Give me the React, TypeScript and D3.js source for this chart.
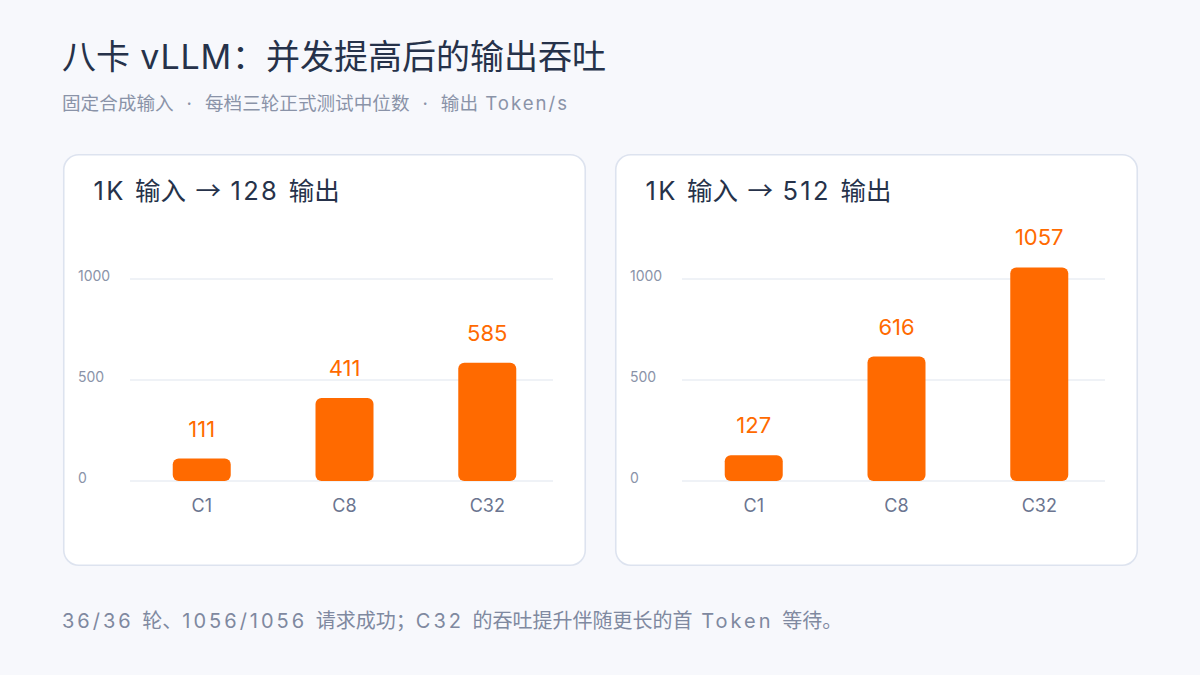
import React from "react";
import * as d3 from "d3";

const categories = ["C1", "C8", "C32"];
const panelTitles = ["1K 输入 → 128 输出", "1K 输入 → 512 输出"];
const valuesShort = [111, 411, 585];
const valuesLong = [127, 616, 1057];
const yTicks = [0, 500, 1000];

const title = "八卡 vLLM：并发提高后的输出吞吐";
const subtitleParts = ["固定合成输入", "每档三轮正式测试中位数", "输出 Token/s"];
const footer = "36/36 轮、1056/1056 请求成功；C32 的吞吐提升伴随更长的首 Token 等待。";

const LATIN = 'Inter, "Noto Sans CJK SC", sans-serif';
const CJK = '"Noto Sans CJK SC", sans-serif';
const ORANGE = "#ff6a00";
const W = 1200;
const H = 675;

const CJK_RE = /([\u2190-\u21ff\u3000-\u303f\u3400-\u9fff\uff00-\uffef]+)/;

function runs(text: string, ls: number, keyBase: string, firstDx = 0) {
  return text
    .split(CJK_RE)
    .filter((s) => s.length > 0)
    .map((r, i) =>
      CJK_RE.test(r) ? (
        <tspan key={keyBase + i} dx={i === 0 && firstDx ? firstDx : undefined} fontFamily={CJK}>{r}</tspan>
      ) : (
        <tspan key={keyBase + i} dx={i === 0 && firstDx ? firstDx : undefined} fontFamily={LATIN} letterSpacing={ls}>{r}</tspan>
      )
    );
}

function Mixed({ text, x, y, size, fill, ls }: { text: string; x: number; y: number; size: number; fill: string; ls: number }) {
  return (
    <text x={x} y={y} fontSize={size} fill={fill} style={{ whiteSpace: "pre" }}>
      {runs(text, ls, "r")}
    </text>
  );
}

function Panel({ x0, heading, values }: { x0: number; heading: string; values: number[] }) {
  const y = d3.scaleLinear().domain([0, 1000]).range([481, 279]);
  const x = d3.scaleBand<string>().domain(categories).range([130, 559]).paddingInner(0.595).paddingOuter(0.3);
  const bw = 58;
  return (
    <g transform={`translate(${x0},0)`}>
      <rect x={0.75} y={154.75} width={521.5} height={410.5} rx={15} fill="#ffffff" stroke="#dde3ef" strokeWidth={1.6} />
      <Mixed text={heading} x={30.5} y={200} size={25.5} fill="#26324a" ls={2.3} />
      {yTicks.map((t) => (
        <g key={t}>
          <line x1={67} x2={490} y1={y(t)} y2={y(t)} stroke="#dfe5ee" strokeWidth={1} />
          <text x={15} y={y(t) + 2} fontSize={14} fill="#8a93a8" fontFamily={LATIN}>{t}</text>
        </g>
      ))}
      {values.map((v, i) => {
        const c = categories[i];
        const cx = (x(c) as number) + x.bandwidth() / 2 - 63;
        return (
          <g key={c}>
            <rect x={cx - bw / 2} y={y(v)} width={bw} height={y(0) - y(v)} rx={6} fill={ORANGE} />
            <text x={cx} y={y(v) - 22} fontSize={22} textAnchor="middle" fill={ORANGE} fontFamily={LATIN}>{v}</text>
            <text x={cx} y={512} fontSize={18} textAnchor="middle" fill="#6b7590" fontFamily={LATIN}>{c}</text>
          </g>
        );
      })}
    </g>
  );
}

export default function App() {
  return (
    <svg width={W} height={H} viewBox={`0 0 ${W} ${H}`} style={{ position: "absolute", left: 0, top: 0, display: "block" }}>
      <rect width={W} height={H} fill="#f7f8fc" />
      <Mixed text={title} x={62} y={69} size={34} fill="#26324a" ls={0.8} />
      <text x={62} y={110} fontSize={18.6} fill="#8a93a8" style={{ whiteSpace: "pre" }}>
        {subtitleParts.map((p, i) => (
          <React.Fragment key={i}>
            {i > 0 && (
              <tspan dx={13} fontFamily={LATIN}>·</tspan>
            )}
            {runs(p, 2, "s" + i, i > 0 ? 13 : 0)}
          </React.Fragment>
        ))}
      </text>
      <Panel x0={63} heading={panelTitles[0]} values={valuesShort} />
      <Panel x0={615} heading={panelTitles[1]} values={valuesLong} />
      <Mixed text={footer} x={62} y={628} size={20} fill="#7f89a0" ls={3} />
    </svg>
  );
}
